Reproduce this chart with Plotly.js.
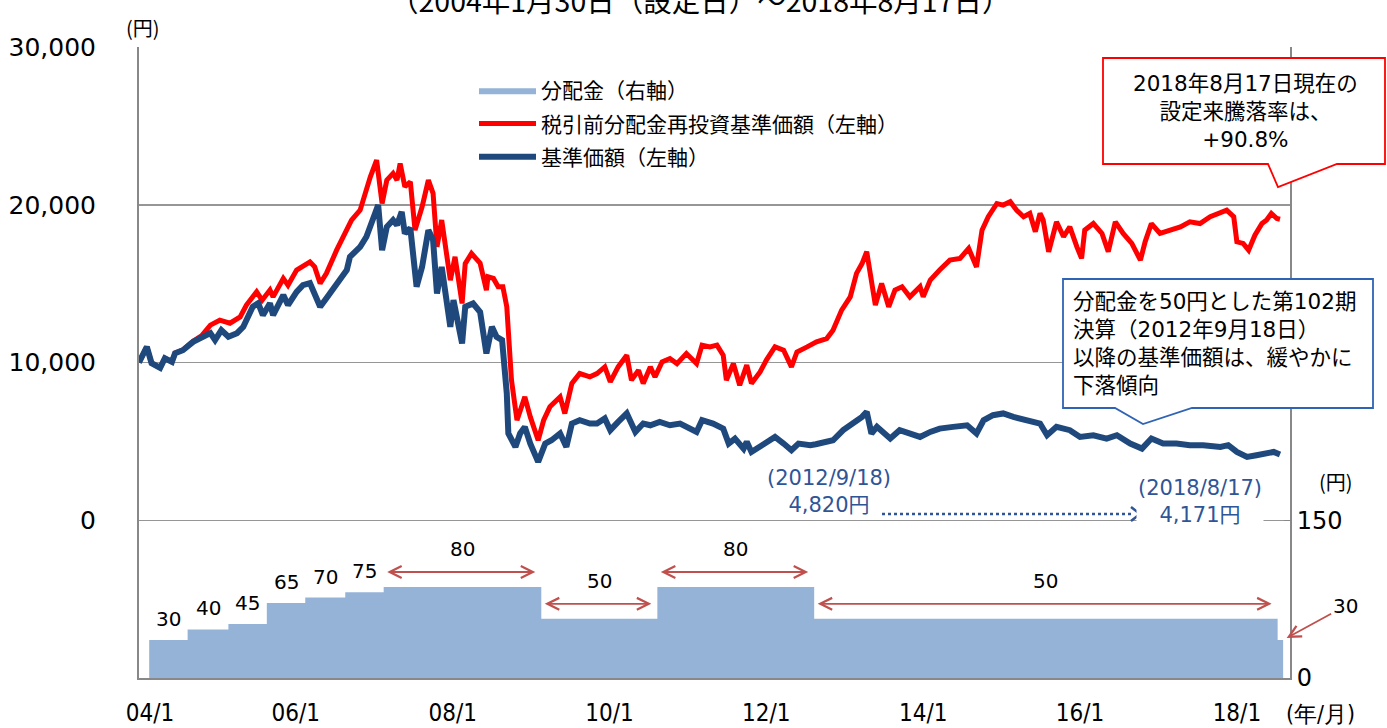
<!DOCTYPE html>
<html><head><meta charset="utf-8">
<script src="https://cdn.plot.ly/plotly-3.0.1.min.js"></script>
<style>html,body{margin:0;padding:0;background:#fff}#chart{width:1387px;height:728px}</style>
</head><body><div id="chart"></div>
<script>
// ---------- data (x in decimal years) ----------
const navYears = [2004.08,2004.18,2004.24,2004.35,2004.41,2004.50,2004.54,2004.64,2004.77,2004.88,2004.99,2005.05,2005.13,2005.22,2005.33,2005.41,2005.53,2005.60,2005.66,2005.75,2005.79,2005.92,2005.98,2006.09,2006.17,2006.26,2006.32,2006.39,2006.47,2006.60,2006.73,2006.77,2006.90,2006.98,2007.06,2007.13,2007.18,2007.24,2007.32,2007.37,2007.43,2007.47,2007.54,2007.62,2007.69,2007.77,2007.83,2007.88,2007.94,2008.05,2008.09,2008.20,2008.24,2008.34,2008.43,2008.51,2008.58,2008.64,2008.71,2008.77,2008.79,2008.88,2008.94,2009.00,2009.07,2009.17,2009.26,2009.34,2009.45,2009.53,2009.60,2009.70,2009.83,2009.92,2010.02,2010.09,2010.19,2010.30,2010.41,2010.51,2010.60,2010.72,2010.85,2010.98,2011.19,2011.26,2011.40,2011.53,2011.60,2011.68,2011.79,2011.83,2011.89,2012.04,2012.19,2012.30,2012.40,2012.49,2012.64,2012.71,2012.93,2013.06,2013.19,2013.30,2013.36,2013.42,2013.49,2013.66,2013.78,2013.91,2014.04,2014.17,2014.29,2014.46,2014.64,2014.76,2014.85,2014.97,2015.10,2015.23,2015.40,2015.57,2015.66,2015.78,2015.95,2016.08,2016.25,2016.42,2016.55,2016.72,2016.87,2016.99,2017.14,2017.31,2017.48,2017.65,2017.87,2017.97,2018.08,2018.21,2018.33,2018.46,2018.55,2018.63];
const navValues = [10000,10990,9960,9660,10270,10040,10590,10780,11310,11540,11860,11420,12050,11630,11860,12260,13530,13760,13000,13760,13000,14270,13640,14480,14900,15030,14400,13530,14080,15030,15860,16700,17330,17970,19030,19980,17120,18600,19030,18710,19550,18180,18520,14800,16060,18390,17760,14380,16060,12260,13950,11210,13530,13740,13200,10570,12260,11630,11420,8040,5500,4650,5500,5920,4860,3700,4860,5070,5500,4650,6130,6340,6130,6130,6450,5710,6230,6770,5600,6130,6020,6230,6020,6130,5600,6340,6130,5810,4860,5180,4540,4970,4330,4760,5280,4860,4440,4860,4760,4820,5070,5710,6130,6550,6870,5500,5920,5180,5710,5500,5280,5600,5810,5920,6020,5500,6340,6660,6770,6550,6340,6130,5390,5920,5710,5280,5390,5180,5390,4860,4540,5180,4860,4860,4760,4760,4650,4760,4330,4010,4120,4230,4330,4171];

const reinvYears = [2004.08,2004.18,2004.24,2004.35,2004.41,2004.50,2004.54,2004.64,2004.77,2004.88,2004.99,2005.11,2005.24,2005.37,2005.45,2005.58,2005.65,2005.75,2005.79,2005.92,2005.98,2006.09,2006.26,2006.32,2006.39,2006.47,2006.60,2006.73,2006.79,2006.90,2006.96,2007.03,2007.11,2007.18,2007.24,2007.32,2007.37,2007.41,2007.47,2007.54,2007.60,2007.69,2007.77,2007.83,2007.88,2007.94,2008.05,2008.11,2008.20,2008.24,2008.32,2008.43,2008.51,2008.53,2008.60,2008.66,2008.72,2008.77,2008.83,2008.90,2009.00,2009.07,2009.17,2009.24,2009.32,2009.45,2009.51,2009.60,2009.70,2009.83,2009.92,2010.02,2010.09,2010.19,2010.30,2010.36,2010.45,2010.51,2010.60,2010.66,2010.75,2010.85,2010.94,2011.06,2011.19,2011.26,2011.36,2011.45,2011.53,2011.57,2011.66,2011.74,2011.83,2011.89,2012.00,2012.08,2012.19,2012.30,2012.40,2012.47,2012.60,2012.72,2012.85,2012.93,2013.04,2013.15,2013.23,2013.30,2013.36,2013.42,2013.47,2013.55,2013.64,2013.72,2013.81,2013.91,2014.04,2014.08,2014.17,2014.29,2014.42,2014.55,2014.66,2014.76,2014.83,2014.91,2015.02,2015.10,2015.19,2015.27,2015.36,2015.44,2015.51,2015.57,2015.61,2015.68,2015.78,2015.87,2015.95,2016.04,2016.10,2016.14,2016.25,2016.36,2016.44,2016.53,2016.63,2016.74,2016.85,2016.91,2016.99,2017.10,2017.23,2017.36,2017.48,2017.61,2017.74,2017.87,2017.95,2018.04,2018.08,2018.16,2018.23,2018.31,2018.40,2018.46,2018.52,2018.59,2018.63];
const reinvValues = [10000,10990,9960,9660,10270,10040,10590,10800,11350,11700,12370,12680,12490,12890,13640,14480,13950,14590,14160,15330,14900,15860,16380,16060,15010,15650,17120,18390,19030,19660,20720,21770,22830,20080,21560,21990,21560,22620,21140,21460,18390,19870,21560,20720,17330,19030,15220,16700,13740,16270,16910,16300,14590,15430,15330,14800,14800,13530,8880,6340,7820,6550,5070,6340,7190,7820,6770,8670,9300,9090,9300,9720,8770,9720,10460,8880,9510,8670,9720,9090,10040,10250,9930,10570,9930,11100,10990,11100,10460,8880,9930,8560,9830,8670,9400,10150,10990,10780,9720,10670,10990,11310,11520,12050,13320,14160,15650,16270,17020,15220,13640,15010,13530,14590,14800,14160,14800,14160,15220,15860,16490,16600,17230,16060,18390,19240,20080,19980,20190,19660,19240,19450,18290,19450,19030,17020,18920,17970,18600,17330,16600,18390,18810,18180,17020,18920,18180,17550,16490,17650,18810,18180,18390,18600,18920,18810,19240,19450,19660,19240,17650,17550,17120,18070,18810,19030,19450,19130,19080];

// distribution per period (yen) : start of each level
const distStartYears = [2004.21,2004.70,2005.22,2005.71,2006.20,2006.71,2007.20,2009.21,2010.69,2012.69,2018.60];
const distAmounts    = [30,40,45,65,70,75,80,50,80,50,30];
const distEndYear = 2018.67;

const xTickYears  = [2004.22,2006.08,2008.08,2010.08,2012.08,2014.08,2016.08,2018.08];
const xTickLabels = ['04/1','06/1','08/1','10/1','12/1','14/1','16/1','18/1'];
const leftTickVals  = [0,10000,20000,30000];
const leftTickText  = ['0','10,000','20,000','30,000'];
const rightTickVals = [0,150];
const rightTickText = ['0','150'];

// ---------- layout helpers ----------
const W = 1387, H = 728, L = 139, R = 1290, T = 47, B = 678;
const px = x => (x - L) / (R - L);
const py = y => (B - y) / (B - T);
const JP = '"Noto Sans CJK JP", sans-serif';
const NUM = '"DejaVu Sans", "Noto Sans CJK JP", sans-serif';
const NARROW = '"Liberation Sans Narrow", "DejaVu Sans Condensed", sans-serif';
const ARW = '#C0504D', BLUE_T = '#2F5597';
const BAR_RANGE = [-5.85, 589.4];   // drawing scale of the distribution area (as in the source picture)

const stepX = distStartYears.concat([distEndYear]);
const stepY = distAmounts.concat([distAmounts[distAmounts.length - 1]]);

const traces = [
  // empty trace so that the labelled right axis (0 / 150 円) is drawn
  {x: [], y: [], yaxis: 'y2', type: 'scatter', mode: 'lines', showlegend: false, hoverinfo: 'skip'},
  {x: stepX, y: stepX.map(() => BAR_RANGE[0]), yaxis: 'y3', type: 'scatter', mode: 'lines', line: {width: 0, color: '#95B3D7'},
   showlegend: false, hoverinfo: 'skip'},
  {x: stepX, y: stepY, yaxis: 'y3', type: 'scatter', mode: 'lines', line: {shape: 'hv', width: 0, color: '#95B3D7'},
   fill: 'tonexty', fillcolor: '#95B3D7', name: '分配金（右軸）', legendgroup: 'a', hoverinfo: 'skip'},
  {x: reinvYears, y: reinvValues, type: 'scatter', mode: 'lines', line: {color: '#FF0000', width: 5},
   name: '税引前分配金再投資基準価額（左軸）', legendgroup: 'b'},
  {x: navYears, y: navValues, type: 'scatter', mode: 'lines', line: {color: '#1F497D', width: 6},
   name: '基準価額（左軸）', legendgroup: 'c'}
];

function note(xp, yp, text, font, extra) {
  return Object.assign({x: px(xp), y: py(yp), xref: 'paper', yref: 'paper', xanchor: 'center', yanchor: 'middle',
    text: text, showarrow: false, font: font}, extra || {});
}

const ann = [];
// short period labels
for (let i = 0; i < 6; i++) {
  ann.push({x: (distStartYears[i] + distStartYears[i + 1]) / 2, y: distAmounts[i], xref: 'x', yref: 'y3',
    xanchor: 'center', yanchor: 'middle',
    text: String(distAmounts[i]), showarrow: false, yshift: 21, font: {family: NUM, size: 20, color: '#000'}});
}
// long periods : double arrows + label
for (let i = 6; i < 10; i++) {
  const s = distStartYears[i], e = distStartYears[i + 1];
  ann.push({x: e, y: distAmounts[i], ax: s, ay: distAmounts[i], xref: 'x', yref: 'y3', axref: 'x', ayref: 'y3',
    text: '', showarrow: true, arrowside: 'end+start', arrowhead: 5, startarrowhead: 5, arrowsize: 1.3, startarrowsize: 1.3,
    arrowwidth: 1.8, arrowcolor: ARW, standoff: 6, startstandoff: 2, yshift: 15});
  ann.push({x: (s + e) / 2, y: distAmounts[i], xref: 'x', yref: 'y3', xanchor: 'center', yanchor: 'middle',
    text: String(distAmounts[i]), showarrow: false, yshift: 38, font: {family: NUM, size: 20, color: '#000'}});
}
// last period
const li = distAmounts.length - 1;
ann.push({x: distEndYear, y: distAmounts[li], xref: 'x', yref: 'y3', text: String(distAmounts[li]), showarrow: true,
  ax: 62, ay: -34, arrowhead: 5, arrowsize: 1.3, arrowwidth: 1.8, arrowcolor: ARW, standoff: 4,
  font: {family: NUM, size: 20, color: '#000'}});

// units & title
ann.push(note(143, 27, '(円)', {family: JP, size: 20, color: '#000'}));
ann.push(note(1336, 481, '(円)', {family: JP, size: 20, color: '#000'}));
ann.push(note(1320, 714, '(年/月)', {family: NARROW, size: 23, color: '#000'}));
ann.push(note(700, 0, '（2004年1月30日（設定日）～2018年8月17日）', {family: JP, size: 28.5, color: '#000'}));

// blue date notes
ann.push(note(829, 492, '(2012/9/18)<br>4,820円', {family: NUM, size: 21, color: BLUE_T}));
ann.push(note(1200, 501, '(2018/8/17)<br>4,171円', {family: NUM, size: 21, color: BLUE_T}, {bgcolor: '#fff'}));

// callout texts
ann.push(note(1245, 111, '2018年8月17日現在の<br>設定来騰落率は、<br>+90.8%', {family: NUM, size: 21.5, color: '#000'}));
ann.push(note(1071, 343, '分配金を50円とした第102期<br>決算（2012年9月18日）<br>以降の基準価額は、緩やかに<br>下落傾向',
  {family: NUM, size: 21.5, color: '#000'}, {xanchor: 'left', align: 'left'}));

function pathPx(pts) {
  return 'M' + pts.map(p => px(p[0]).toFixed(5) + ',' + py(p[1]).toFixed(5)).join('L') + 'Z';
}
const shapes = [
  {type: 'path', xref: 'paper', yref: 'paper', layer: 'above', fillcolor: '#fff', line: {color: '#FF0000', width: 1.8},
   path: pathPx([[1103,58],[1385,58],[1385,164],[1337,164],[1278,187],[1268,164],[1103,164]])},
  {type: 'path', xref: 'paper', yref: 'paper', layer: 'above', fillcolor: '#fff', line: {color: '#2F64B4', width: 1.8},
   path: pathPx([[1063,279],[1373,279],[1373,408],[1192,408],[1143,424],[1115,408],[1063,408]])},
  {type: 'line', xref: 'paper', yref: 'paper', x0: px(882), x1: px(1134), y0: py(514), y1: py(514),
   line: {color: BLUE_T, width: 2.5, dash: 'dot'}},
  {type: 'path', xref: 'paper', yref: 'paper', path: 'M' + px(1131) + ',' + py(507) + 'L' + px(1140) + ',' + py(514) + 'L' + px(1131) + ',' + py(521),
   line: {color: BLUE_T, width: 2.5}}
];

const layout = {
  width: W, height: H, paper_bgcolor: '#fff', plot_bgcolor: '#fff',
  margin: {l: L, r: W - R, t: T, b: H - B, pad: 0},
  showlegend: true,
  legend: {x: px(474), y: py(70), xanchor: 'left', yanchor: 'top', bgcolor: 'rgba(0,0,0,0)', itemwidth: 57,
    tracegroupgap: 3, font: {family: JP, size: 21, color: '#000'}},
  xaxis: {type: 'linear', range: [2004.08, 2004.08 + (R - L) * 0.012752], tickmode: 'array', tickvals: xTickYears, ticktext: xTickLabels,
    showgrid: false, zeroline: false, showline: true, linecolor: '#888', linewidth: 2, ticks: '', layer: 'below traces',
    ticklabelstandoff: 12, tickfont: {family: NARROW, size: 24, color: '#000'}},
  yaxis: {range: [-10000, 30000], tickmode: 'array', tickvals: leftTickVals, ticktext: leftTickText, showgrid: true,
    gridcolor: '#969696', gridwidth: 1.5, zeroline: false, showline: true, linecolor: '#888', linewidth: 2, ticks: '',
    ticklabelstandoff: 36, tickfont: {family: NUM, size: 25, color: '#000'}},
  yaxis2: {overlaying: 'y', side: 'right', range: [0, 600], tickmode: 'array', tickvals: rightTickVals, ticktext: rightTickText,
    showgrid: false, zeroline: false, showline: true, linecolor: '#888', linewidth: 2, ticks: 'inside', ticklen: 6, tickcolor: '#888',
    ticklabelstandoff: 0, tickfont: {family: NUM, size: 24, color: '#000'}},
  yaxis3: {overlaying: 'y', side: 'right', range: BAR_RANGE, visible: false, showgrid: false, zeroline: false},
  annotations: ann, shapes: shapes
};

Plotly.newPlot('chart', traces, layout, {displayModeBar: false, staticPlot: true});
</script>
</body></html>
